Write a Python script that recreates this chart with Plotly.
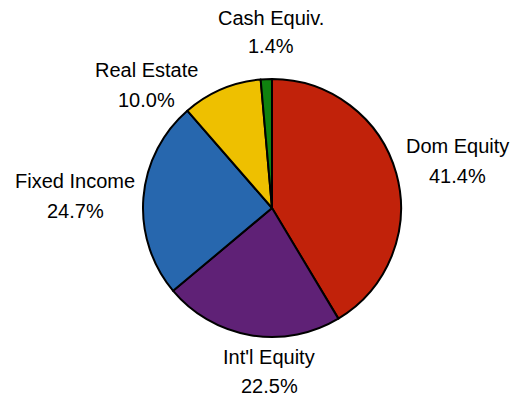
import plotly.graph_objects as go

W, H = 512, 404

labels = ["Dom Equity", "Int'l Equity", "Fixed Income", "Real Estate", "Cash Equiv."]
values = [41.4, 22.5, 24.7, 10.0, 1.4]
colors = ["#C1220A", "#5F2176", "#2767AE", "#EEC000", "#10820F"]

# label anchor positions in pixels (x centre, y of name line, y of percent line)
LABEL_POS = {
    "Dom Equity": (457, 146, 176),
    "Int'l Equity": (269, 357, 386),
    "Fixed Income": (75, 181, 211),
    "Real Estate": (146, 70, 100),
    "Cash Equiv.": (271, 18, 46),
}

CX, CY, R = 272, 208, 129
FONT = dict(family="Liberation Sans, Arial, sans-serif", size=20, color="black")

fig = go.Figure(go.Pie(
    labels=labels,
    values=values,
    sort=False,
    direction="clockwise",
    rotation=0,
    marker=dict(colors=colors, line=dict(color="black", width=2)),
    textinfo="none",
    hoverinfo="label+percent",
    showlegend=False,
    domain=dict(x=[(CX - R) / W, (CX + R) / W],
                y=[(H - CY - R) / H, (H - CY + R) / H]),
))

total = sum(values)
for lab, v in zip(labels, values):
    x, y1, y2 = LABEL_POS[lab]
    for txt, y in ((lab, y1), (f"{v / total * 100:.1f}%", y2)):
        fig.add_annotation(x=x / W, y=1 - y / H, xref="paper", yref="paper",
                           text=txt, showarrow=False, font=FONT,
                           xanchor="center", yanchor="middle")

fig.update_layout(
    width=W, height=H,
    margin=dict(l=0, r=0, t=0, b=0),
    paper_bgcolor="white",
    plot_bgcolor="white",
)

# page body has a default 8px margin; drop it so the figure fills the window
fig.write_html("out.html", config={"displayModeBar": False},
               post_script="document.body.style.margin='0';")
